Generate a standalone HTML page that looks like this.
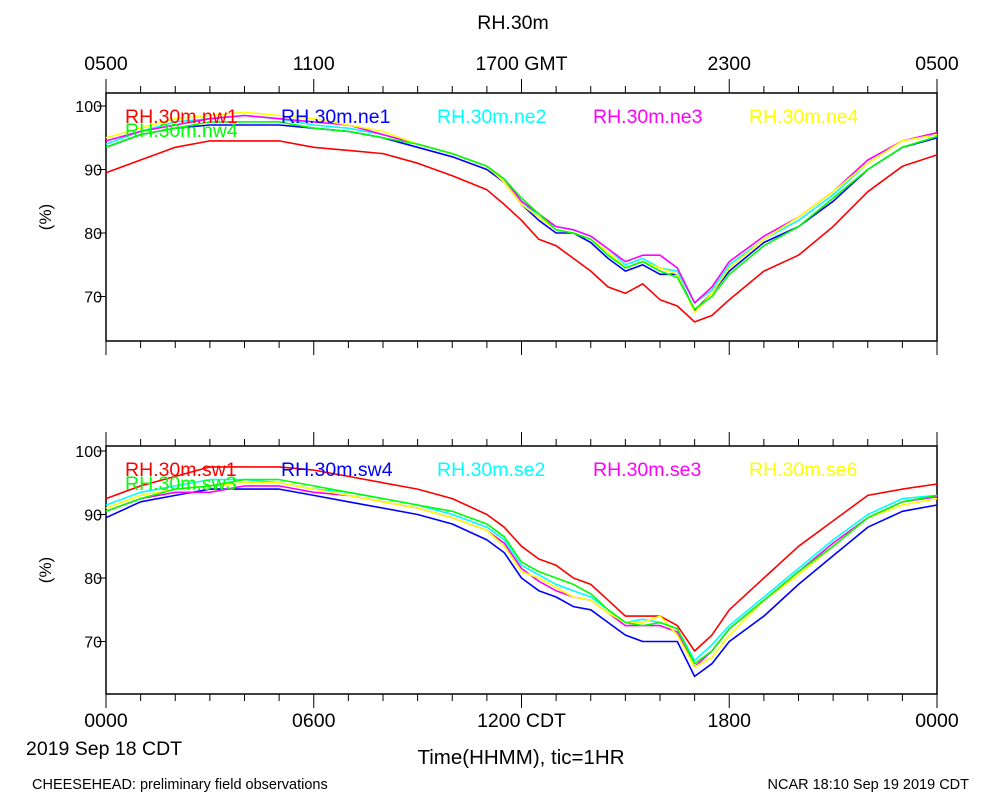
<!DOCTYPE html>
<html><head><meta charset="utf-8"><style>
body{margin:0;background:#fff;}
svg{display:block;font-family:"Liberation Sans",sans-serif;}
</style></head><body>
<svg id="chart" width="1000" height="800" viewBox="0 0 1000 800" xmlns="http://www.w3.org/2000/svg">
<rect width="1000" height="800" fill="#fff"/>
<text x="513" y="29" font-size="19.5" text-anchor="middle">RH.30m</text>
<g id="static"></g>
<g id="marks"></g>
</svg>
<script>
// ---- data ----
const hours = [0,1,2,3,4,5,6,7,8,9,10,11,11.5,12,12.5,13,13.5,14,14.5,15,15.5,16,16.5,17,17.5,18,19,20,21,22,23,24];
const topNames = ["RH.30m.nw1","RH.30m.ne1","RH.30m.ne2","RH.30m.ne3","RH.30m.ne4","RH.30m.nw4"];
const botNames = ["RH.30m.sw1","RH.30m.sw4","RH.30m.se2","RH.30m.se3","RH.30m.se6","RH.30m.sw3"];
const colors = ["#ff0000","#0000ff","#00ffff","#ff00ff","#ffff00","#00ff00"];
const nw1 = [89.5,91.5,93.5,94.5,94.5,94.5,93.5,93,92.5,91,89,86.8,84.5,82,79,78,76,74,71.5,70.5,72,69.5,68.5,66,67,69.5,74,76.5,81,86.5,90.5,92.3];
const ne1 = [93.5,95.5,96.5,97,97,97,96.5,96,95,93.5,92,90,88,84.5,82,80,80,78.5,76,74,75,73.5,73.5,67.8,70.5,74,78.5,81,85,90,93.5,95];
const ne2 = [94,96,97.5,98,98.5,98,97,96.5,95.5,94,92.5,90.5,88.5,85,82.5,81,80.5,79.5,77.5,75,76,74.5,74,69,71,75,79,82,86,91,94.5,95.5];
const ne3 = [94.5,96,97,98,98.5,98,97.5,97,95.5,94,92.5,90.5,88.5,85,83,81,80.5,79.5,77.5,75.5,76.5,76.5,74.5,69,71.5,75.5,79.5,82.5,86.5,91.5,94.5,95.8];
const ne4 = [95,96.5,98,98.5,99,98.5,98,97,96,94,92.5,90.5,88,84.5,82.5,80.5,80,79,77,74.5,75.5,74.5,73.5,67.5,70.5,74.5,79,82.5,86.5,91,94.5,95.5];
const nw4 = [93.5,95.5,96.5,97.5,97.5,97.5,96.5,96,95,94,92.5,90.5,88.5,85.5,83,80.5,80,79,76.5,74.5,75.5,74,73,68,70,73.5,78,81,85.5,90,93.5,95.2];
const sw1 = [92.5,94.5,96,97.5,97.5,97.5,97,96,95,94,92.5,90,88,85,83,82,80,79,76.5,74,74,74,72.5,68.5,71,75,80,85,89,93,94,94.8];
const sw4 = [89.5,92,93,94,94,94,93,92,91,90,88.5,86,84,80,78,77,75.5,75,73,71,70,70,70,64.5,66.5,70,74,79,83.5,88,90.5,91.5];
const se2 = [91.5,93.5,94.5,95.5,95.5,95,94,93.5,92.5,91.5,90,88,86,82,80.5,79,78,77,75,73,73.5,73,72,67,69.5,72.5,77,81.5,86,90,92.5,93];
const se3 = [90.5,92.5,93.5,93.5,94.5,94.5,93.5,93,92,91,89.5,87.5,85.5,81.5,79.5,78,77,76.5,74.5,72.5,72.5,72.5,71.5,66,68.5,72,76.5,81,85.5,89.5,92,92.8];
const se6 = [91,93,94,94.5,95,95,94,93,92,91,89.5,87.5,85,81,80,78.5,77,76.5,74.5,73,73,74,71,66,67.5,71,76.5,80.5,85,89.5,91.5,92.5];
const sw3 = [90.5,92.5,94,94.5,95.5,95.5,94.5,93.5,92.5,91.5,90.5,88.5,86.5,82.5,81,80,79,77.5,75,73,72.5,73,72,66.5,68.5,72,76.5,81,85,89.5,92,93];
const topSeries = [nw1,ne1,ne2,ne3,ne4,nw4];
const botSeries = [sw1,sw4,se2,se3,se6,sw3];
const yTicks = [100,90,80,70];
const cdtLabels = ["0000","0600","1200 CDT","1800","0000"];
const gmtLabels = ["0500","1100","1700 GMT","2300","0500"];

// ---- layout ----
const X0=106, X1=937;
const panels=[{top:93,bot:341,v100:106,name:"top-panel",names:topNames,series:topSeries},
              {top:446,bot:694,v100:451,name:"bottom-panel",names:botNames,series:botSeries}];
const NS="http://www.w3.org/2000/svg";
const xs = t => X0 + t*(X1-X0)/24;
function mk(tag, attrs, parent, txt){
  const e=document.createElementNS(NS,tag);
  for(const k in attrs) e.setAttribute(k,attrs[k]);
  if(txt!==undefined) e.textContent=txt;
  parent.appendChild(e); return e;
}
const st=document.getElementById('static'), mg=document.getElementById('marks');
panels.forEach((p,pi)=>{
  const ys = v => p.v100 + (100-v)*6.35;
  const g=mk('g',{},st);
  
  
  const fr=mk('rect',{x:X0,y:p.top,width:X1-X0,height:p.bot-p.top,fill:'none',stroke:'#000','stroke-width':1.5},g);
  
  
  for(let h=0;h<=24;h++){
    const x=xs(h), L=(h%6===0)?14:7;
    const t1=mk('line',{x1:x,x2:x,y1:p.bot,y2:p.bot+L,stroke:'#000','stroke-width':1},g);
    
    
    const t2=mk('line',{x1:x,x2:x,y1:p.top,y2:p.top-L,stroke:'#000','stroke-width':1},g);
    
    
  }
  yTicks.forEach(v=>{
    const y=ys(v);
    const l=mk('line',{x1:X0-9,x2:X0,y1:y,y2:y,stroke:'#000','stroke-width':1},g);
    
    
    const t=mk('text',{x:X0-4,y:y+6,'font-size':16,'text-anchor':'end'},g,String(v));
    
    
  });
  const yt=mk('text',{x:0,y:0,'font-size':17,'text-anchor':'middle',transform:`translate(51,${(p.top+p.bot)/2}) rotate(-90)`},g,'(%)');
  
  
  p.series.forEach((s,si)=>{
    const d=s.map((v,i)=>(i?'L':'M')+xs(hours[i]).toFixed(1)+','+ys(v).toFixed(1)).join('');
    const path=mk('path',{d:d,fill:'none',stroke:colors[si],'stroke-width':1.6,'stroke-linejoin':'round'},mg);
    
    
  });
  p.names.forEach((n,si)=>{
    const lx = si<5 ? 125+si*156 : 125;
    const ly = (si<5 ? p.top+30 : p.top+44);
    const t=mk('text',{x:lx,y:ly,'font-size':19.5,fill:colors[si]},mg,n);
    
    
  });
});
gmtLabels.forEach((s,i)=>{
  const t=mk('text',{x:xs(i*6),y:70,'font-size':19.5,'text-anchor':'middle'},st,s);
  
  
});
cdtLabels.forEach((s,i)=>{
  const t=mk('text',{x:xs(i*6),y:727,'font-size':19.5,'text-anchor':'middle'},st,s);
  
  
});
const extras=[["date-label",26,755,19.5,"start","2019 Sep 18 CDT"],
 ["x-axis-title",521,764,20.5,"middle","Time(HHMM), tic=1HR"],
 ["footer-left",32,789,14.5,"start","CHEESEHEAD: preliminary field observations"],
 ["footer-right",969,789,14.5,"end","NCAR 18:10 Sep 19 2019 CDT"]];
extras.forEach(e=>{
  const t=mk('text',{x:e[1],y:e[2],'font-size':e[3],'text-anchor':e[4]},st,e[5]);
  
  
});
</script>
</body></html>
